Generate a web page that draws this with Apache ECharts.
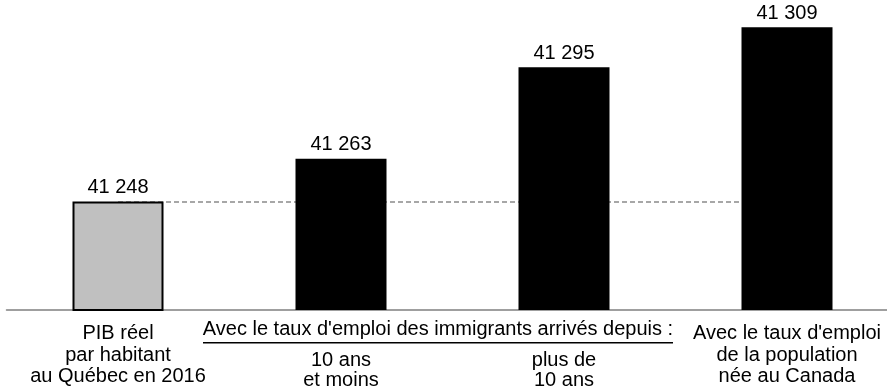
<!DOCTYPE html>
<html>
<head>
<meta charset="utf-8">
<script src="https://cdn.jsdelivr.net/npm/echarts@6/dist/echarts.min.js"></script>
<style>
html,body{margin:0;padding:0;background:#fff;}
#chart{width:887px;height:392px;}
</style>
</head>
<body>
<div id="chart"></div>
<script>
// Data
const categories = ['pib', 'moins10', 'plus10', 'canada'];
const mainLabels = ['PIB réel\npar habitant\nau Québec en 2016', '', '', "Avec le taux d'emploi\nde la population\nnée au Canada"];
const subLabels = ['', '10 ans\net moins', 'plus de\n10 ans', ''];
const groupHeader = "Avec le taux d'emploi des immigrants arrivés depuis :";
const values = [41248, 41263, 41295, 41309];
const referenceValue = 41248;

const FONT = "'Liberation Sans', Arial, sans-serif";
const fmt = v => String(v).replace(/\B(?=(\d{3})+(?!\d))/g, ' ');

const chart = echarts.init(document.getElementById('chart'), null, {renderer: 'canvas'});
chart.setOption({
  animation: false,
  backgroundColor: '#fff',
  textStyle: {fontFamily: FONT},
  grid: {left: 6.5, width: 892, top: 24.4, bottom: 82, containLabel: false, outerBoundsMode: 'none'},
  xAxis: [{
    type: 'category',
    data: categories,
    axisLine: {show: true, lineStyle: {color: '#808080', width: 1.5}},
    axisTick: {show: false},
    axisLabel: {
      interval: 0, margin: 13, color: '#000', fontSize: 20, lineHeight: 21.5,
      fontFamily: FONT,
      formatter: (v, i) => mainLabels[i]
    }
  }, {
    type: 'category',
    data: categories,
    position: 'bottom',
    axisLine: {show: false},
    axisTick: {show: false},
    axisLabel: {
      interval: 0, margin: 40, color: '#000', fontSize: 20, lineHeight: 20.5,
      fontFamily: FONT,
      formatter: (v, i) => subLabels[i]
    }
  }],
  yAxis: {
    type: 'value', min: 41210, max: 41310, show: false,
    splitLine: {show: false}
  },
  series: [{
    type: 'bar',
    xAxisIndex: 0,
    barWidth: 91,
    data: values.map((v, i) => ({
      value: v,
      itemStyle: i === 0
        ? {color: '#c0c0c0', borderColor: '#000', borderWidth: 2}
        : {color: '#000'}
    })),
    label: {
      show: true, position: 'top', distance: 4,
      color: '#000', fontSize: 20, fontFamily: FONT,
      formatter: p => fmt(p.value)
    },
    markLine: {
      z: 1,
      silent: true,
      symbol: 'none',
      label: {show: false},
      lineStyle: {color: '#8a8a8a', type: [5, 3], width: 1.5},
      data: [[{coord: [0, referenceValue]}, {coord: [3, referenceValue]}]]
    }
  }],
  graphic: [{
    type: 'group',
    children: [{
      type: 'text',
      x: 438, y: 329.5,
      style: {text: groupHeader, font: '20px ' + FONT, fill: '#000', align: 'center', verticalAlign: 'middle'}
    }, {
      type: 'line',
      shape: {x1: 203, y1: 342.7, x2: 673, y2: 342.7},
      style: {stroke: '#000', lineWidth: 1.5}
    }]
  }]
});
</script>
</body>
</html>
